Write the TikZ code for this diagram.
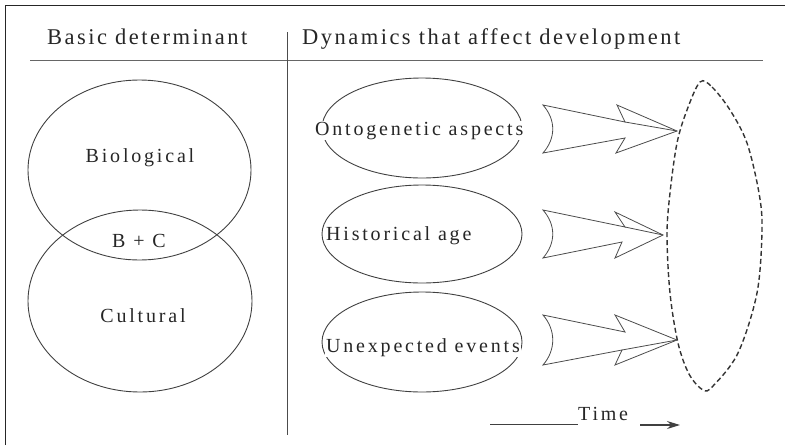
\documentclass[tikz,border=0pt]{standalone}
\usepackage{fontspec}
\setmainfont{Liberation Serif}
\newfontfamily\hdrfont{Liberation Serif}[LetterSpace=11]
\newfontfamily\lblfont{Liberation Serif}[LetterSpace=14]
\usetikzlibrary{arrows.meta,shapes.geometric}
\begin{document}
\begin{tikzpicture}[x=1pt,y=-1pt,
  rule/.style={draw=black!75, line width=0.9pt},
  oval/.style={draw=black!75, line width=0.9pt, ellipse, inner sep=0pt},
  hdr/.style={font=\hdrfont\fontsize{22.5}{26}\selectfont, inner sep=0pt, text=black!85},
  lbl/.style={font=\lblfont\fontsize{20}{24}\selectfont, fill=white, inner sep=1pt, text=black!85},
  barrow/.style={draw=black!70, line width=0.8pt, line join=miter, fill=white},
  lens/.style={draw=black!80, line width=1.4pt, dash pattern=on 5pt off 3pt}]
\useasboundingbox (0,0) rectangle (785,445);
% frame
\draw[rule, draw=black!85] (5,445) -- (5,5) -- (785,5);
% headers and dividers
\node[hdr, anchor=base west] (h1) at (47,44) {Basic determinant};
\node[hdr, anchor=base west] (h2) at (302,44) {Dynamics that affect development};
\coordinate (hl) at (30,60);
\coordinate (hr) at (763,60);
\coordinate (vt) at (287,32);
\coordinate (vb) at (287,435);
\draw[rule, draw=black!60] (hl) -- (hr);
\draw[rule, draw=black!70] (vt) -- (vb);
% left Venn
\node[oval, minimum width=223pt, minimum height=180pt] (bio) at (139.5,170) {};
\node[oval, minimum width=224pt, minimum height=182pt] (cul) at (140,301) {};
\node[lbl, fill=none, anchor=base] (tbio) at (140,162) {Biological};
\node[lbl, fill=none, anchor=base] (tbc) at (139,247) {B + C};
\node[lbl, fill=none, anchor=base] (tcul) at (143,322) {Cultural};
% right ovals
\node[oval, minimum width=200pt, minimum height=100pt] (o1) at (422,128) {};
\node[oval, minimum width=200pt, minimum height=98pt] (o2) at (422,234) {};
\node[oval, minimum width=200pt, minimum height=100pt] (o3) at (422,342) {};
\node[lbl, anchor=base west] (t1) at (314,135) {Ontogenetic aspects};
\node[lbl, anchor=base west] (t2) at (325,240) {Historical age};
\node[lbl, anchor=base west] (t3) at (325,352) {Unexpected events};
% block arrows
\draw[barrow] (543,105) -- (625,122) -- (617,105) -- (677,131) -- (616,153) -- (625,138) -- (543,153)
  .. controls (556,138) and (556,120) .. cycle;
\draw[barrow] (625,122) -- (677,131);
\draw[barrow] (543,210) -- (625,227) -- (615,212) -- (663,235) -- (615,258) -- (622,242) -- (543,258)
  .. controls (556,243) and (556,225) .. cycle;
\draw[barrow] (625,227) -- (663,235);
\draw[barrow] (543,315) -- (625,332) -- (615,315) -- (677,340) -- (615,365) -- (622,350) -- (543,365)
  .. controls (556,350) and (556,330) .. cycle;
\draw[barrow] (622,350) -- (677,340);
% dashed lens
\draw[lens] plot[smooth cycle, tension=0.55] coordinates {(700,82) (712,87) (730,110) (747,143) (759,193) (762,230) (757,293) (738,353) (713,386) (703,390) (689,374) (678,343) (670,293) (667,235) (670,193) (677,143) (687,110)};
% time
\node[lbl, fill=none, anchor=base west, inner sep=0pt] (time) at (578,420) {Time};
\coordinate (ts) at (490,424);
\coordinate (as) at (640,425);
\coordinate (ae) at (680,425);
\draw[rule] (ts) -- (ts -| time.west);
\draw[rule, line width=1.3pt, -{Stealth[length=13pt,width=8pt]}] (as) -- (ae);
\end{tikzpicture}
\end{document}
